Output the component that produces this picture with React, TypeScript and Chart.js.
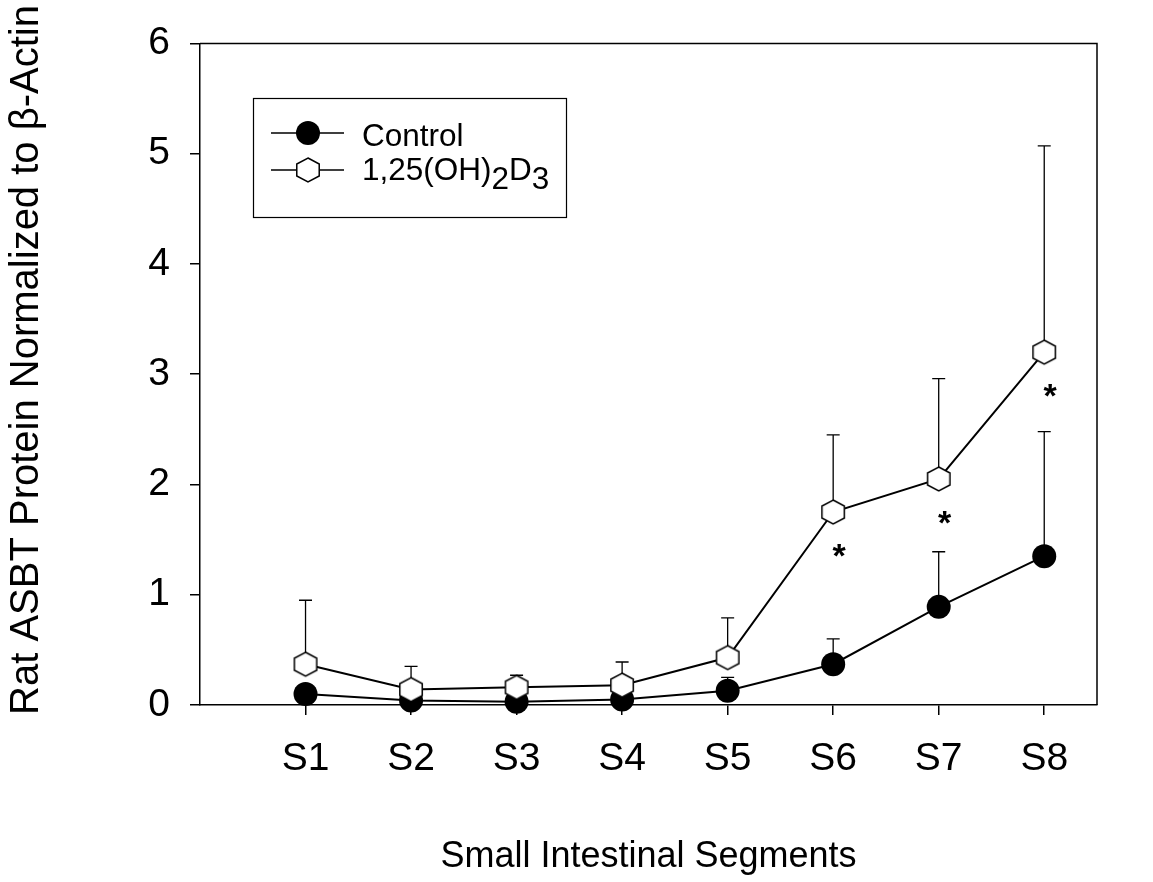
import React, { useEffect, useRef } from "react";
import { Chart, registerables } from "chart.js";

Chart.register(...registerables);

// Segment labels along the intestine and the measured protein levels (mean and SE)
const segments = ["S1", "S2", "S3", "S4", "S5", "S6", "S7", "S8"];
const controlMean = [0.1, 0.04, 0.03, 0.05, 0.13, 0.37, 0.89, 1.35];
const controlSE = [0.05, 0.03, 0.02, 0.03, 0.12, 0.23, 0.5, 1.13];
const vitDMean = [0.37, 0.14, 0.16, 0.18, 0.43, 1.75, 2.05, 3.2];
const vitDSE = [0.58, 0.21, 0.11, 0.21, 0.36, 0.7, 0.91, 1.87];
const significant = [false, false, false, false, false, true, true, true];
const yTicks = [0, 1, 2, 3, 4, 5, 6];

const FONT = '"Liberation Sans", Arial, Helvetica, sans-serif';

function hexPath(ctx: CanvasRenderingContext2D, cx: number, cy: number, r: number) {
  ctx.beginPath();
  for (let i = 0; i < 6; i++) {
    const a = -Math.PI / 2 + (i * Math.PI) / 3;
    const px = cx + r * 1.08 * Math.cos(a);
    const py = cy + r * Math.sin(a);
    if (i === 0) ctx.moveTo(px, py);
    else ctx.lineTo(px, py);
  }
  ctx.closePath();
}

function drawHex(ctx: CanvasRenderingContext2D, cx: number, cy: number, r: number) {
  hexPath(ctx, cx, cy, r);
  ctx.fillStyle = "#fff";
  ctx.fill();
  ctx.lineWidth = 1.5;
  ctx.strokeStyle = "#000";
  ctx.stroke();
}

function makeHexSprite(r: number) {
  const size = 2 * Math.ceil(r + 3);
  const c = document.createElement("canvas");
  c.width = size;
  c.height = size;
  const ctx = c.getContext("2d")!;
  drawHex(ctx, size / 2, size / 2, r);
  return c;
}

const decorations = {
  id: "decorations",
  beforeDatasetsDraw(chart: any) {
    const { ctx, scales } = chart;
    const x = scales.x;
    const y = scales.y;
    ctx.save();
    ctx.strokeStyle = "#000";
    ctx.lineWidth = 1.3;
    const groups: [number[], number[]][] = [
      [controlMean, controlSE],
      [vitDMean, vitDSE],
    ];
    for (const [mean, se] of groups) {
      mean.forEach((v, i) => {
        const px = x.getPixelForValue(i + 1);
        const y0 = y.getPixelForValue(v);
        const y1 = y.getPixelForValue(v + se[i]);
        ctx.beginPath();
        ctx.moveTo(px, y0);
        ctx.lineTo(px, y1);
        ctx.moveTo(px - 6.5, y1);
        ctx.lineTo(px + 6.5, y1);
        ctx.stroke();
      });
    }
    ctx.restore();
  },
  afterDraw(chart: any) {
    const { ctx, chartArea, scales } = chart;
    const { left, top, right, bottom } = chartArea;
    const x = scales.x;
    const y = scales.y;
    ctx.save();

    // top and right edges of the plot frame
    ctx.strokeStyle = "#000";
    ctx.lineWidth = 1.5;
    ctx.beginPath();
    ctx.moveTo(left, top);
    ctx.lineTo(right, top);
    ctx.lineTo(right, bottom);
    ctx.stroke();

    // significance asterisks under the treated points
    ctx.fillStyle = "#000";
    ctx.font = `bold 34px ${FONT}`;
    ctx.textAlign = "center";
    ctx.textBaseline = "alphabetic";
    significant.forEach((s, i) => {
      if (!s) return;
      const px = x.getPixelForValue(i + 1) + 6;
      const py = y.getPixelForValue(vitDMean[i]) + 36;
      ctx.fillText("*", px, py + 0.56 * 34);
    });

    // legend
    ctx.lineWidth = 1.2;
    ctx.strokeRect(253.5, 98.5, 313, 119);
    ctx.lineWidth = 1.5;
    ctx.beginPath();
    ctx.moveTo(271, 133);
    ctx.lineTo(344, 133);
    ctx.moveTo(271, 170);
    ctx.lineTo(344, 170);
    ctx.stroke();
    ctx.beginPath();
    ctx.arc(308, 133, 12, 0, Math.PI * 2);
    ctx.fillStyle = "#000";
    ctx.fill();
    drawHex(ctx, 308, 170, 12);

    ctx.fillStyle = "#000";
    ctx.font = `31.5px ${FONT}`;
    ctx.textAlign = "left";
    ctx.textBaseline = "alphabetic";
    ctx.fillText("Control", 362, 146);
    let tx = 362;
    const parts: [string, number][] = [
      ["1,25(OH)", 0],
      ["2", 9],
      ["D", 0],
      ["3", 9],
    ];
    for (const [t, dy] of parts) {
      ctx.fillText(t, tx, 180 + dy);
      tx += ctx.measureText(t).width;
    }

    // axis titles
    ctx.font = `36px ${FONT}`;
    ctx.textAlign = "center";
    ctx.fillText("Small Intestinal Segments", (left + right) / 2, 867);

    ctx.translate(38, 360);
    ctx.rotate(-Math.PI / 2);
    ctx.font = `40px ${FONT}`;
    ctx.fillText("Rat ASBT Protein Normalized to \u03b2-Actin", 0, 0);

    ctx.restore();
  },
};

export default function App() {
  const canvasRef = useRef<HTMLCanvasElement | null>(null);

  useEffect(() => {
    const canvas = canvasRef.current;
    if (!canvas) return;
    const hexSprite = makeHexSprite(12);

    const chart = new Chart(canvas, {
      type: "line",
      data: {
        datasets: [
          {
            label: "1,25(OH)2D3",
            data: vitDMean.map((v, i) => ({ x: i + 1, y: v })),
            borderColor: "#000",
            borderWidth: 2,
            pointStyle: hexSprite as any,
            pointRadius: 12,
            backgroundColor: "#fff",
            clip: false as any,
            order: 1,
          },
          {
            label: "Control",
            data: controlMean.map((v, i) => ({ x: i + 1, y: v })),
            borderColor: "#000",
            borderWidth: 2,
            pointStyle: "circle",
            pointRadius: 12,
            pointBackgroundColor: "#000",
            pointBorderColor: "#000",
            pointBorderWidth: 0,
            clip: false as any,
            order: 2,
          },
        ],
      },
      options: {
        responsive: false,
        animation: false,
        layout: { padding: { top: 42, right: 56, left: 0, bottom: 0 } },
        plugins: {
          legend: { display: false },
          tooltip: { enabled: false },
        },
        scales: {
          x: {
            type: "linear",
            min: 0,
            max: 8.5,
            afterBuildTicks: (scale: any) => {
              scale.ticks = segments.map((_, i) => ({ value: i + 1 }));
            },
            afterFit: (scale: any) => {
              scale.height = 177;
            },
            ticks: {
              autoSkip: false,
              maxRotation: 0,
              color: "#000",
              padding: 21,
              font: { family: FONT, size: 39 },
              callback: (v: any) => segments[Number(v) - 1] ?? "",
            },
            grid: {
              drawOnChartArea: false,
              drawTicks: true,
              tickLength: 10,
              color: "#000",
              lineWidth: 1.5,
            },
            border: { color: "#000", width: 1.5 },
          },
          y: {
            type: "linear",
            min: 0,
            max: 6,
            afterBuildTicks: (scale: any) => {
              scale.ticks = yTicks.map((v) => ({ value: v }));
            },
            afterFit: (scale: any) => {
              scale.width = 200;
            },
            ticks: {
              color: "#000",
              padding: 20,
              font: { family: FONT, size: 39 },
              callback: (v: any) => String(v),
            },
            grid: {
              drawOnChartArea: false,
              drawTicks: true,
              tickLength: 10,
              color: "#000",
              lineWidth: 1.5,
            },
            border: { color: "#000", width: 1.5 },
          },
        },
      },
      plugins: [decorations],
    });

    return () => chart.destroy();
  }, []);

  return (
    <div style={{ position: "absolute", left: 0, top: 0, width: 1153, height: 882, background: "#fff" }}>
      <canvas ref={canvasRef} width={1153} height={882} style={{ display: "block" }} />
    </div>
  );
}
